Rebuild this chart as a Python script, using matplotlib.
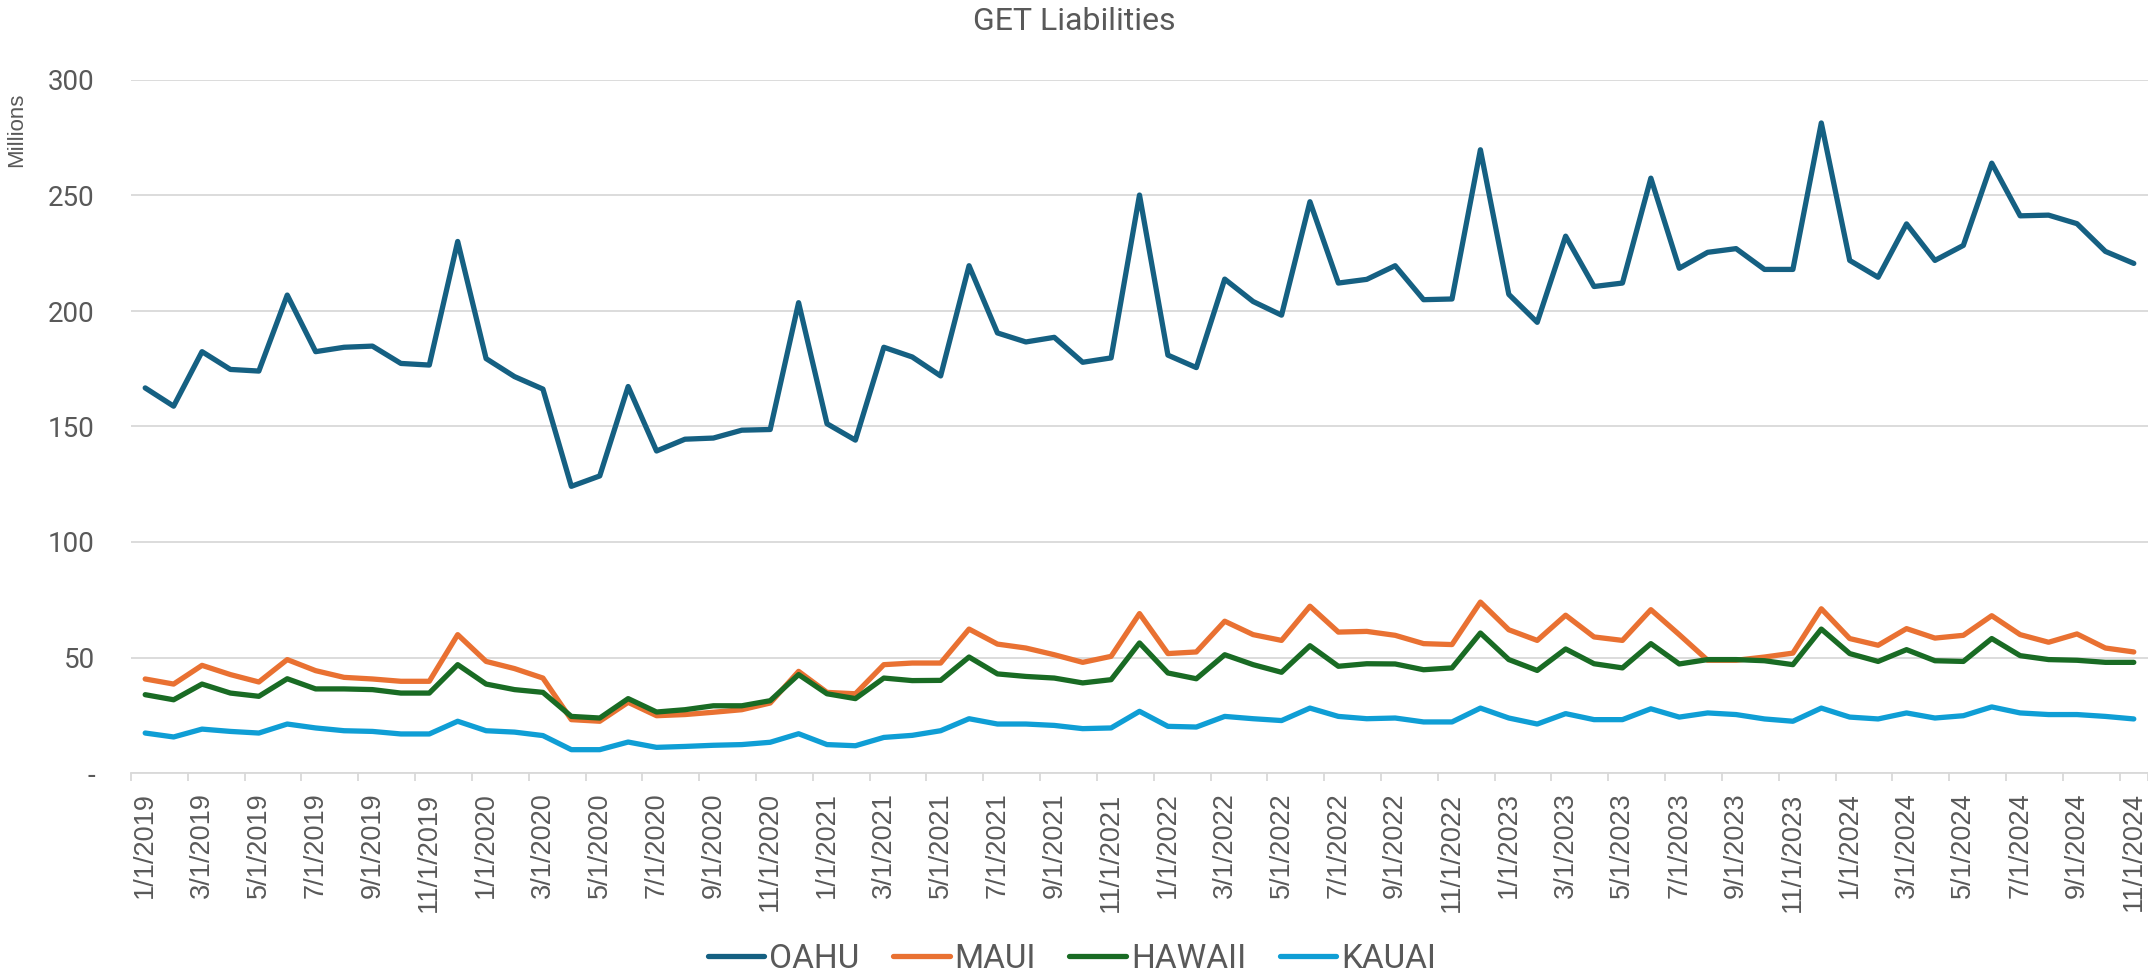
import matplotlib.pyplot as plt
import pandas as pd

# monthly GET liabilities, millions
months = pd.date_range("2019-01-01", "2024-11-01", freq="MS")
month_labels = [f"{d.month}/{d.day}/{d.year}" for d in months]

oahu = [166.7, 158.8, 182.4, 174.7, 174.0, 206.9, 182.4, 184.3, 184.8, 177.3, 176.6, 230.1,
        179.4, 171.6, 166.2, 124.1, 128.6, 167.3, 139.4, 144.5, 145.0, 148.4, 148.7, 203.6,
        151.2, 144.1, 184.3, 180.1, 171.9, 219.6, 190.5, 186.6, 188.6, 177.8, 179.7, 250.2,
        180.9, 175.5, 213.8, 204.1, 198.2, 247.3, 212.1, 213.7, 219.6, 204.9, 205.2, 269.8,
        207.2, 195.1, 232.4, 210.6, 212.1, 257.5, 218.5, 225.4, 227.0, 218.0, 218.0, 281.4,
        221.9, 214.6, 237.7, 221.9, 228.4, 264.0, 241.2, 241.5, 237.8, 225.8, 220.6]

maui = [40.7, 38.5, 46.6, 42.6, 39.4, 49.1, 44.3, 41.4, 40.7, 39.7, 39.7, 59.9,
        48.3, 45.2, 41.1, 23.1, 22.4, 30.6, 24.8, 25.3, 26.3, 27.4, 30.3, 44.0,
        34.9, 34.3, 46.9, 47.6, 47.6, 62.3, 55.8, 54.1, 51.2, 47.9, 50.5, 69.0,
        51.7, 52.4, 65.7, 59.9, 57.4, 72.2, 61.0, 61.3, 59.6, 56.0, 55.6, 74.0,
        62.0, 57.4, 68.3, 58.9, 57.4, 70.7, 59.9, 48.8, 48.8, 50.2, 51.9, 71.1,
        58.2, 55.3, 62.5, 58.4, 59.6, 68.1, 59.9, 56.6, 60.2, 54.1, 52.4]

hawaii = [33.9, 31.7, 38.5, 34.6, 33.2, 40.8, 36.4, 36.4, 36.1, 34.6, 34.6, 46.9,
          38.5, 36.1, 34.9, 24.5, 23.8, 32.2, 26.4, 27.4, 29.1, 29.1, 31.3, 42.6,
          34.3, 32.2, 41.1, 40.0, 40.1, 50.2, 42.9, 41.8, 41.1, 39.0, 40.4, 56.3,
          43.3, 40.8, 51.2, 46.9, 43.6, 55.1, 46.2, 47.3, 47.2, 44.7, 45.5, 60.6,
          49.1, 44.4, 53.7, 47.3, 45.5, 56.0, 47.2, 49.1, 49.1, 48.6, 46.9, 62.3,
          51.7, 48.3, 53.4, 48.6, 48.3, 58.2, 50.8, 49.1, 48.8, 47.9, 47.9]

kauai = [17.3, 15.6, 19.0, 18.0, 17.3, 21.2, 19.5, 18.3, 18.0, 16.9, 16.9, 22.4,
         18.3, 17.7, 16.2, 10.1, 10.1, 13.4, 11.1, 11.5, 12.0, 12.3, 13.3, 17.0,
         12.3, 11.8, 15.4, 16.3, 18.3, 23.5, 21.2, 21.2, 20.6, 19.2, 19.5, 26.7,
         20.2, 19.9, 24.5, 23.5, 22.7, 28.1, 24.5, 23.5, 23.8, 22.1, 22.1, 28.1,
         23.8, 21.2, 25.7, 23.1, 23.1, 27.8, 24.2, 26.0, 25.3, 23.4, 22.4, 28.1,
         24.2, 23.4, 26.0, 23.8, 24.8, 28.6, 26.0, 25.3, 25.3, 24.5, 23.4]

series_names = ["OAHU", "MAUI", "HAWAII", "KAUAI"]
series_colors = ["#156082", "#E97132", "#196B24", "#0F9ED5"]
y_ticks = [0, 50, 100, 150, 200, 250, 300]
y_tick_labels = ["-", "50", "100", "150", "200", "250", "300"]

narrow = ["Roboto", "DejaVu Sans"]
regular = ["Liberation Sans", "DejaVu Sans"]
txt = "#595959"

fig = plt.figure(figsize=(21.48, 9.8), dpi=100)
ax = fig.add_axes([131 / 2148, 1 - 773 / 980, 1 - 131 / 2148, (773 - 80) / 980])

x = list(range(len(months)))
for vals, name, col in zip([oahu, maui, hawaii, kauai], series_names, series_colors):
    ax.plot(x, vals, color=col, lw=3.8, label=name, solid_joinstyle="round",
            solid_capstyle="round", zorder=3)

ax.set_xlim(-0.5, len(months) - 0.5)
ax.set_ylim(0, 300)

ax.set_yticks(y_ticks)
ax.set_yticklabels(y_tick_labels, family=narrow, fontsize=20, color=txt)
ax.tick_params(axis="y", length=0, pad=26)
ax.grid(axis="y", color="#D9D9D9", lw=1.3, zorder=0)

ax.set_xticks(x[::2])
ax.set_xticklabels(month_labels[::2], rotation=90, family=regular, fontsize=19.5, color=txt)
ax.tick_params(axis="x", length=0, pad=14)
ax.set_xticks([i - 0.5 for i in x[::2]] + [len(months) - 0.5], minor=True)
ax.tick_params(axis="x", which="minor", length=6, width=1.3, color="#D9D9D9")

for s in ["top", "right", "left"]:
    ax.spines[s].set_visible(False)
ax.spines["bottom"].set_color("#D9D9D9")
ax.spines["bottom"].set_linewidth(1.3)

fig.text(0.5, 1 - 22 / 980, "GET Liabilities", ha="center", va="center",
         family=narrow, fontsize=23, color=txt)
fig.text(17 / 2148, 1 - 130 / 980, "Millions", rotation=90, ha="center", va="center",
         family=regular, fontsize=16, color=txt)

leg = fig.legend(loc="center", bbox_to_anchor=(1072 / 2148, 1 - 959 / 980), ncol=4,
                 frameon=False, handlelength=1.7, handletextpad=0.15, columnspacing=1.0,
                 prop={"family": narrow, "size": 24})
for t in leg.get_texts():
    t.set_color(txt)
for h in leg.get_lines():
    h.set_solid_capstyle("round")

fig.savefig("out.png", dpi=100)
